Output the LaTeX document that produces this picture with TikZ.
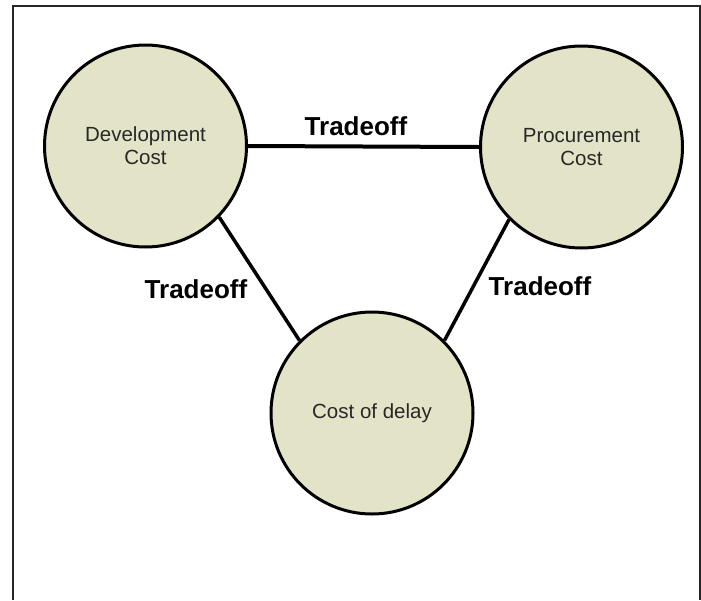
\documentclass[tikz,border=0pt]{standalone}
\usepackage{fontspec}
\setmainfont{Liberation Sans}
\definecolor{costfill}{RGB}{227,227,200}
\definecolor{costtext}{RGB}{40,40,40}
\tikzset{
  cost/.style={circle,draw=black,line width=3pt,fill=costfill,
    minimum size=202pt,inner sep=0pt,align=center,text=costtext,
    font=\fontsize{20.5}{23}\selectfont},
  tradeoff/.style={anchor=base,inner sep=0pt,
    font=\fontsize{26}{30}\selectfont\bfseries},
  link/.style={line width=3.5pt}
}
\begin{document}
\begin{tikzpicture}[x=1pt,y=-1pt]
  \useasboundingbox (0,0) rectangle (701,600);

  % Frame
  \draw[line width=2pt,black!85] (13,600) -- (13,6) -- (700,6) -- (700,600);

  % Costs
  \node[cost] (dev) at (145.5,146) {Development\\Cost};
  \node[cost] (proc) at (581.5,147) {Procurement\\Cost};
  \node[cost] (delay) at (372,413) {Cost of delay};

  % Tradeoffs
  \draw[link,line width=4pt] (dev.east) -- (proc.west);
  \draw[link] (dev.-44) -- (delay.135);
  \draw[link] (proc.225) -- (delay.45);
  \node[tradeoff] (tdp) at (356,135) {Tradeoff};
  \node[tradeoff] (tdd) at (196,298) {Tradeoff};
  \node[tradeoff] (tpd) at (540,295) {Tradeoff};
\end{tikzpicture}
\end{document}
